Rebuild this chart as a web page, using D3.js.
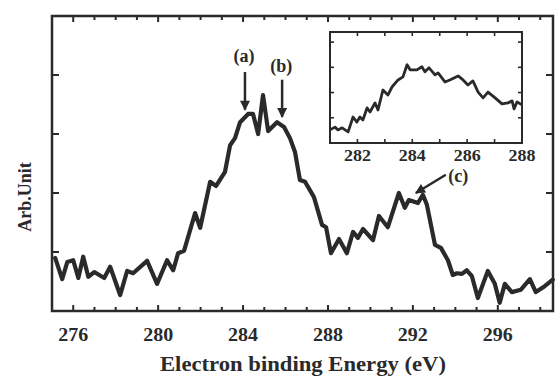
<!DOCTYPE html>
<html>
<head>
<meta charset="utf-8">
<script src="https://cdn.jsdelivr.net/npm/d3@7"></script>
<style>
	body { margin: 0; background: #fff; }
	svg { display: block; }
	text { font-family: "Liberation Serif", "Times New Roman", serif; font-weight: bold; fill: #2a2a2a; }
</style>
</head>
<body>
<script>
// main spectrum
const energy = [275.15, 275.48, 275.72, 276.0, 276.24, 276.47, 276.71, 276.99, 277.46, 277.74,
	278.21, 278.54, 278.82, 279.48, 279.95, 280.42, 280.71, 280.94, 281.22, 281.74,
	281.98, 282.45, 282.73, 283.15, 283.39, 283.62, 283.86, 284.24, 284.47, 284.71,
	284.94, 285.18, 285.6, 285.93, 286.21, 286.45, 286.68, 286.92, 287.34, 287.72,
	287.91, 288.14, 288.52, 288.89, 289.18, 289.41, 289.65, 290.12, 290.4, 290.82,
	291.34, 291.62, 291.81, 292.24, 292.47, 292.66, 293.04, 293.32, 293.65, 293.88,
	294.07, 294.31, 294.54, 294.78, 295.06, 295.53, 295.86, 296.09, 296.33, 296.66,
	297.08, 297.51, 297.79, 298.21, 298.59];
const intensity = [0.9, 0.54, 0.83, 0.86, 0.56, 0.92, 0.58, 0.66, 0.56, 0.75,
	0.27, 0.68, 0.64, 0.85, 0.46, 0.86, 0.69, 0.98, 1.02, 1.66,
	1.41, 2.19, 2.12, 2.36, 2.81, 2.93, 3.2, 3.34, 3.34, 3.0,
	3.66, 3.05, 3.2, 3.12, 2.93, 2.69, 2.22, 2.19, 1.93, 1.46,
	1.42, 0.98, 1.22, 0.98, 1.34, 1.24, 1.39, 1.2, 1.61, 1.42,
	2.0, 1.75, 1.88, 1.83, 1.97, 1.8, 1.12, 1.07, 0.86, 0.61,
	0.64, 0.63, 0.69, 0.59, 0.22, 0.68, 0.46, 0.14, 0.46, 0.32,
	0.36, 0.54, 0.32, 0.42, 0.53];

// inset spectrum
const insetEnergy = [281.0, 281.18, 281.29, 281.44, 281.66, 281.84, 281.98, 282.09, 282.2, 282.35,
	282.46, 282.64, 282.75, 282.93, 283.11, 283.26, 283.48, 283.66, 283.81, 283.92,
	284.17, 284.35, 284.46, 284.61, 284.83, 284.94, 285.19, 285.37, 285.67, 285.85,
	286.03, 286.21, 286.4, 286.58, 286.76, 287.02, 287.27, 287.49, 287.64, 287.71,
	287.82, 288.0];
const insetIntensity = [0.52, 0.63, 0.52, 0.6, 0.44, 1.03, 0.83, 1.03, 0.91, 1.39,
	1.23, 1.59, 1.31, 2.1, 1.9, 2.22, 2.5, 2.62, 3.1, 2.9,
	2.9, 3.02, 2.82, 2.98, 2.7, 2.78, 2.42, 2.5, 2.66, 2.5,
	2.3, 2.46, 2.02, 1.79, 2.02, 1.79, 1.55, 1.59, 1.67, 1.35,
	1.63, 1.51];

// ticks
const xTickLabels = [276, 280, 284, 288, 292, 296];
const insetTickLabels = [282, 284, 286, 288];
const yTicks = [1, 2, 3, 4];

// peak markers
const markLabels = ["(a)", "(b)", "(c)"];
const markTip = [[284.09, 3.41], [285.84, 3.29], [292.14, 2.0]];
const markTail = [[284.09, 4.05], [285.84, 3.92], [293.55, 2.31]];
const markText = [[284.04, 4.22], [285.8, 4.05], [294.14, 2.19]];

const W = 556, H = 376;
const ink = "#2a2a2a";

const m = { left: 52, right: 553, top: 16, bottom: 311 };

const x = d3.scaleLinear().domain([275.0, 298.6]).range([m.left, m.right]);
const y = d3.scaleLinear().domain([0, 5]).range([m.bottom, m.top]);

const svg = d3.select("body").append("svg")
	.attr("width", W)
	.attr("height", H);

// рамка с тиками внутрь
const minor = d3.range(276, 299, 1);

function frameTicks(g, xs, ys, tickVals, yVals, major, minorLen, majorLen, yLen) {
	const [x0, x1] = xs.range();
	const [y0, y1] = ys.range();
	tickVals.forEach(v => {
		const len = major.includes(v) ? majorLen : minorLen;
		g.append("line").attr("x1", xs(v)).attr("x2", xs(v)).attr("y1", y0).attr("y2", y0 - len);
		g.append("line").attr("x1", xs(v)).attr("x2", xs(v)).attr("y1", y1).attr("y2", y1 + len);
	});
	yVals.forEach(v => {
		g.append("line").attr("x1", x0).attr("x2", x0 + yLen).attr("y1", ys(v)).attr("y2", ys(v));
		g.append("line").attr("x1", x1).attr("x2", x1 - yLen).attr("y1", ys(v)).attr("y2", ys(v));
	});
}

const gTicks = svg.append("g").attr("stroke", ink).attr("stroke-width", 2);
frameTicks(gTicks, x, y, minor, yTicks, xTickLabels, 4, 6, 7);

svg.append("rect")
	.attr("x", m.left).attr("y", m.top)
	.attr("width", m.right - m.left).attr("height", m.bottom - m.top)
	.attr("fill", "none").attr("stroke", ink).attr("stroke-width", 2.5);

svg.selectAll(".xlab").data(xTickLabels).enter().append("text")
	.attr("x", d => x(d)).attr("y", 341)
	.attr("text-anchor", "middle").attr("font-size", 19)
	.attr("textLength", 30).attr("lengthAdjust", "spacingAndGlyphs")
	.text(d => d);

svg.append("text")
	.attr("x", 303).attr("y", 371)
	.attr("text-anchor", "middle").attr("font-size", 20)
	.attr("textLength", 286).attr("lengthAdjust", "spacingAndGlyphs")
	.text("Electron binding Energy (eV)");

svg.append("text")
	.attr("transform", "translate(31,197) rotate(-90)")
	.attr("text-anchor", "middle").attr("font-size", 18)
	.text("Arb.Unit");

// основная кривая
const line = d3.line().x(d => x(d[0])).y(d => y(d[1]));
svg.append("path")
	.datum(d3.zip(energy, intensity))
	.attr("d", line)
	.attr("fill", "none").attr("stroke", ink)
	.attr("stroke-width", 4.2).attr("stroke-linejoin", "round").attr("stroke-linecap", "round");

// стрелки
const defs = svg.append("defs");
defs.append("marker")
	.attr("id", "head").attr("viewBox", "0 0 10 10")
	.attr("refX", 9).attr("refY", 5)
	.attr("markerWidth", 5).attr("markerHeight", 4)
	.attr("markerUnits", "strokeWidth")
	.attr("orient", "auto")
	.append("path").attr("d", "M0,0 L10,5 L0,10 Z").attr("fill", ink);

markLabels.forEach((lab, i) => {
	svg.append("line")
		.attr("x1", x(markTail[i][0])).attr("y1", y(markTail[i][1]))
		.attr("x2", x(markTip[i][0])).attr("y2", y(markTip[i][1]))
		.attr("stroke", ink).attr("stroke-width", 2.5)
		.attr("marker-end", "url(#head)");
	svg.append("text")
		.attr("x", x(markText[i][0])).attr("y", y(markText[i][1]))
		.attr("text-anchor", "middle").attr("font-size", 18)
		.text(lab);
});

// вставка
const ix = d3.scaleLinear().domain([281, 288]).range([330, 522]);
const iy = d3.scaleLinear().domain([0, 4.4]).range([143, 32]);

svg.append("rect")
	.attr("x", 330).attr("y", 32).attr("width", 192).attr("height", 111)
	.attr("fill", "#fff");

const gInset = svg.append("g").attr("stroke", ink).attr("stroke-width", 1.6);
frameTicks(gInset, ix, iy, d3.range(282, 288, 1), yTicks, [], 4, 4, 4);

svg.append("rect")
	.attr("x", 330).attr("y", 32).attr("width", 192).attr("height", 111)
	.attr("fill", "none").attr("stroke", ink).attr("stroke-width", 2);

const iline = d3.line().x(d => ix(d[0])).y(d => iy(d[1]));
svg.append("path")
	.datum(d3.zip(insetEnergy, insetIntensity))
	.attr("d", iline)
	.attr("fill", "none").attr("stroke", ink)
	.attr("stroke-width", 2.8).attr("stroke-linejoin", "round");

svg.selectAll(".ilab").data(insetTickLabels).enter().append("text")
	.attr("x", d => ix(d)).attr("y", 161)
	.attr("text-anchor", "middle").attr("font-size", 17)
	.attr("textLength", 27).attr("lengthAdjust", "spacingAndGlyphs")
	.text(d => d);
</script>
</body>
</html>
